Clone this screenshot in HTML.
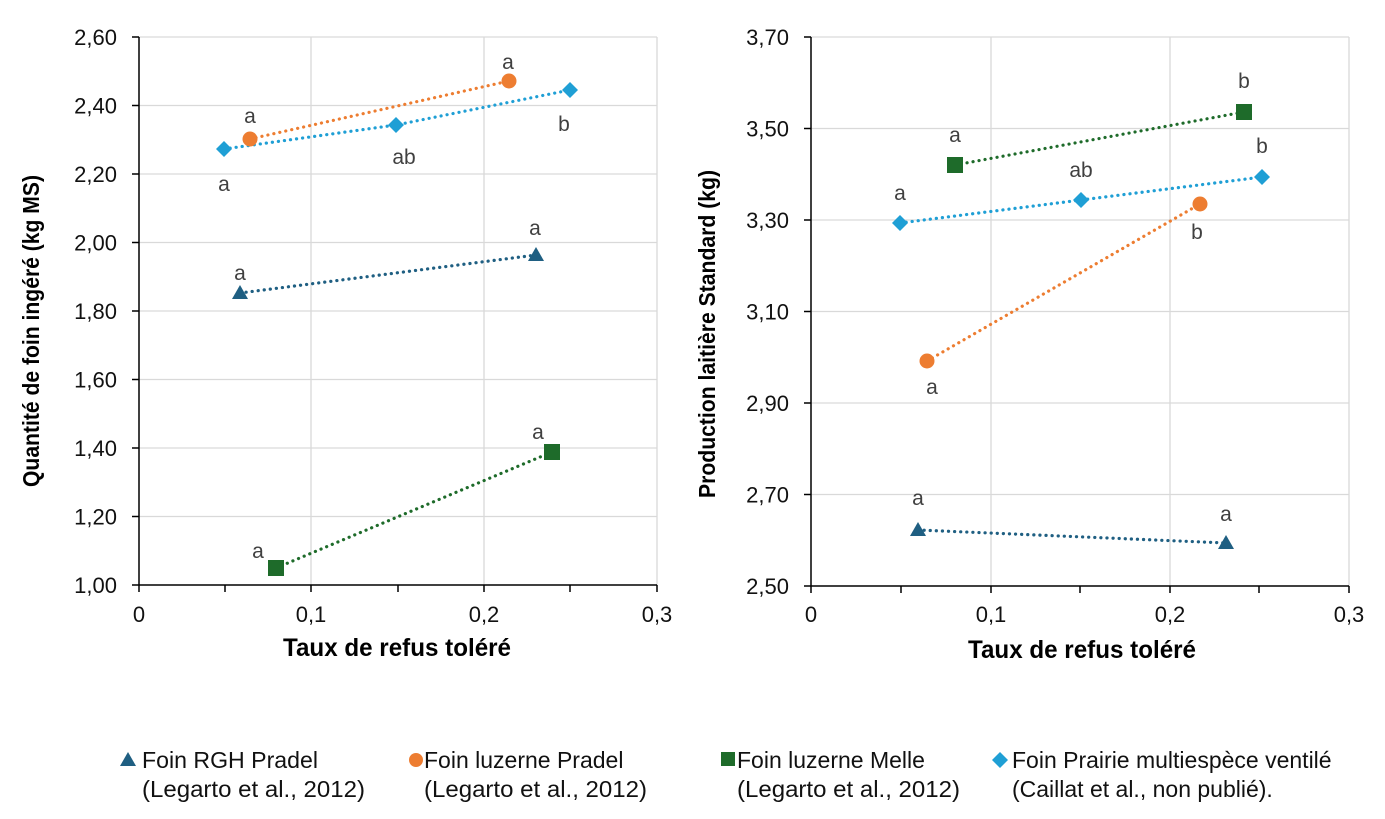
<!DOCTYPE html>
<html><head><meta charset="utf-8"><style>
html,body{margin:0;padding:0;background:#fff;}
svg{display:block;font-family:"Liberation Sans",sans-serif;}
</style></head><body>
<svg width="1385" height="819" viewBox="0 0 1385 819" xmlns="http://www.w3.org/2000/svg">
<rect width="1385" height="819" fill="#fff"/>
<!-- LEFT CHART -->
<g stroke="#d9d9d9" stroke-width="1.3">
<line x1="139" y1="37" x2="657" y2="37"/><line x1="139" y1="105.5" x2="657" y2="105.5"/>
<line x1="139" y1="174" x2="657" y2="174"/><line x1="139" y1="242.5" x2="657" y2="242.5"/>
<line x1="139" y1="311" x2="657" y2="311"/><line x1="139" y1="379.5" x2="657" y2="379.5"/>
<line x1="139" y1="448" x2="657" y2="448"/><line x1="139" y1="516.5" x2="657" y2="516.5"/>
<line x1="311" y1="37" x2="311" y2="585"/><line x1="484" y1="37" x2="484" y2="585"/><line x1="657" y1="37" x2="657" y2="585"/>
</g>
<g stroke="#000" stroke-width="1.5">
<line x1="139" y1="37" x2="139" y2="585"/><line x1="139" y1="585" x2="657" y2="585"/>
<line x1="132" y1="37" x2="139" y2="37"/><line x1="132" y1="105.5" x2="139" y2="105.5"/><line x1="132" y1="174" x2="139" y2="174"/><line x1="132" y1="242.5" x2="139" y2="242.5"/><line x1="132" y1="311" x2="139" y2="311"/><line x1="132" y1="379.5" x2="139" y2="379.5"/><line x1="132" y1="448" x2="139" y2="448"/><line x1="132" y1="516.5" x2="139" y2="516.5"/><line x1="132" y1="585" x2="139" y2="585"/>
<line x1="139" y1="585" x2="139" y2="592"/><line x1="225" y1="585" x2="225" y2="592"/><line x1="311" y1="585" x2="311" y2="592"/><line x1="398" y1="585" x2="398" y2="592"/><line x1="484" y1="585" x2="484" y2="592"/><line x1="570" y1="585" x2="570" y2="592"/><line x1="657" y1="585" x2="657" y2="592"/>
</g>
<g font-size="22" fill="#111" text-anchor="end">
<text x="117" y="45">2,60</text><text x="117" y="113.5">2,40</text><text x="117" y="182">2,20</text><text x="117" y="250.5">2,00</text><text x="117" y="319">1,80</text><text x="117" y="387.5">1,60</text><text x="117" y="456">1,40</text><text x="117" y="524.5">1,20</text><text x="117" y="593">1,00</text>
</g>
<g font-size="22" fill="#111" text-anchor="middle">
<text x="139" y="622">0</text><text x="311" y="622">0,1</text><text x="484" y="622">0,2</text><text x="657" y="622">0,3</text>
</g>
<text x="283" y="656" font-size="25" font-weight="bold" textLength="228" lengthAdjust="spacingAndGlyphs">Taux de refus toléré</text>
<text transform="translate(39,487) rotate(-90)" font-size="23" font-weight="bold" textLength="312" lengthAdjust="spacingAndGlyphs">Quantité de foin ingéré (kg MS)</text>
<g stroke-width="3.2" stroke-dasharray="0.1 6" stroke-linecap="round" fill="none">
<line x1="240" y1="293" x2="536" y2="255" stroke="#1f5f82"/>
<line x1="250" y1="139" x2="509" y2="81" stroke="#ed7d31"/>
<polyline points="224,149 396,125 570,90" stroke="#1f9fd5"/>
<line x1="276" y1="568" x2="552" y2="452" stroke="#1e6b2a"/>
</g>
<g>
<polygon points="240,285 248,299 232,299" fill="#1f5f82"/><polygon points="536,247 544,261 528,261" fill="#1f5f82"/>
<circle cx="250" cy="139" r="7.5" fill="#ed7d31"/><circle cx="509" cy="81" r="7.5" fill="#ed7d31"/>
<polygon points="224,141 232,149 224,157 216,149" fill="#1f9fd5"/><polygon points="396,117 404,125 396,133 388,125" fill="#1f9fd5"/><polygon points="570,82 578,90 570,98 562,90" fill="#1f9fd5"/>
<rect x="268" y="560" width="16" height="16" fill="#1e6b2a"/><rect x="544" y="444" width="16" height="16" fill="#1e6b2a"/>
</g>
<g font-size="21" fill="#404040" text-anchor="middle">
<text x="240" y="280">a</text><text x="535" y="235">a</text>
<text x="250" y="123">a</text><text x="508" y="69">a</text>
<text x="224" y="191">a</text><text x="404" y="164">ab</text><text x="564" y="131">b</text>
<text x="258" y="558">a</text><text x="538" y="439">a</text>
</g>
<!-- RIGHT CHART -->
<g stroke="#d9d9d9" stroke-width="1.3">
<line x1="811" y1="37" x2="1349" y2="37"/><line x1="811" y1="128.5" x2="1349" y2="128.5"/><line x1="811" y1="220" x2="1349" y2="220"/><line x1="811" y1="311.5" x2="1349" y2="311.5"/><line x1="811" y1="403" x2="1349" y2="403"/><line x1="811" y1="494.5" x2="1349" y2="494.5"/>
<line x1="991" y1="37" x2="991" y2="586"/><line x1="1170" y1="37" x2="1170" y2="586"/><line x1="1349" y1="37" x2="1349" y2="586"/>
</g>
<g stroke="#000" stroke-width="1.5">
<line x1="811" y1="37" x2="811" y2="586"/><line x1="811" y1="586" x2="1349" y2="586"/>
<line x1="804" y1="37" x2="811" y2="37"/><line x1="804" y1="128.5" x2="811" y2="128.5"/><line x1="804" y1="220" x2="811" y2="220"/><line x1="804" y1="311.5" x2="811" y2="311.5"/><line x1="804" y1="403" x2="811" y2="403"/><line x1="804" y1="494.5" x2="811" y2="494.5"/><line x1="804" y1="586" x2="811" y2="586"/>
<line x1="811" y1="586" x2="811" y2="593"/><line x1="901" y1="586" x2="901" y2="593"/><line x1="991" y1="586" x2="991" y2="593"/><line x1="1080" y1="586" x2="1080" y2="593"/><line x1="1170" y1="586" x2="1170" y2="593"/><line x1="1259" y1="586" x2="1259" y2="593"/><line x1="1349" y1="586" x2="1349" y2="593"/>
</g>
<g font-size="22" fill="#111" text-anchor="end">
<text x="789" y="45">3,70</text><text x="789" y="136.5">3,50</text><text x="789" y="228">3,30</text><text x="789" y="319.5">3,10</text><text x="789" y="411">2,90</text><text x="789" y="502.5">2,70</text><text x="789" y="594">2,50</text>
</g>
<g font-size="22" fill="#111" text-anchor="middle">
<text x="811" y="622">0</text><text x="991" y="622">0,1</text><text x="1170" y="622">0,2</text><text x="1349" y="622">0,3</text>
</g>
<text x="968" y="658" font-size="25" font-weight="bold" textLength="228" lengthAdjust="spacingAndGlyphs">Taux de refus toléré</text>
<text transform="translate(715,498) rotate(-90)" font-size="23" font-weight="bold" textLength="328" lengthAdjust="spacingAndGlyphs">Production laitière Standard (kg)</text>
<g stroke-width="3.2" stroke-dasharray="0.1 6" stroke-linecap="round" fill="none">
<line x1="955" y1="165" x2="1244" y2="112" stroke="#1e6b2a"/>
<polyline points="900,223 1081,200 1262,177" stroke="#1f9fd5"/>
<line x1="927" y1="361" x2="1200" y2="204" stroke="#ed7d31"/>
<line x1="918" y1="530" x2="1226" y2="543" stroke="#1f5f82"/>
</g>
<g>
<rect x="947" y="157" width="16" height="16" fill="#1e6b2a"/><rect x="1236" y="104" width="16" height="16" fill="#1e6b2a"/>
<polygon points="900,215 908,223 900,231 892,223" fill="#1f9fd5"/><polygon points="1081,192 1089,200 1081,208 1073,200" fill="#1f9fd5"/><polygon points="1262,169 1270,177 1262,185 1254,177" fill="#1f9fd5"/>
<circle cx="927" cy="361" r="7.5" fill="#ed7d31"/><circle cx="1200" cy="204" r="7.5" fill="#ed7d31"/>
<polygon points="918,522 926,536 910,536" fill="#1f5f82"/><polygon points="1226,535 1234,549 1218,549" fill="#1f5f82"/>
</g>
<g font-size="21" fill="#404040" text-anchor="middle">
<text x="955" y="142">a</text><text x="1244" y="88">b</text>
<text x="900" y="200">a</text><text x="1081" y="177">ab</text><text x="1262" y="153">b</text>
<text x="932" y="394">a</text><text x="1197" y="239">b</text>
<text x="918" y="505">a</text><text x="1226" y="521">a</text>
</g>
<!-- LEGEND -->
<polygon points="128,752 136,766 120,766" fill="#1f5f82"/>
<circle cx="416" cy="760" r="7" fill="#ed7d31"/>
<rect x="721" y="752" width="14" height="14" fill="#1e6b2a"/>
<polygon points="1000,752 1008,760 1000,768 992,760" fill="#1f9fd5"/>
<g font-size="23" fill="#111">
<text x="142" y="768" textLength="176" lengthAdjust="spacingAndGlyphs">Foin RGH Pradel</text><text x="142" y="797" textLength="223" lengthAdjust="spacingAndGlyphs">(Legarto et al., 2012)</text>
<text x="424" y="768">Foin luzerne Pradel</text><text x="424" y="797" textLength="223" lengthAdjust="spacingAndGlyphs">(Legarto et al., 2012)</text>
<text x="737" y="768">Foin luzerne Melle</text><text x="737" y="797" textLength="223" lengthAdjust="spacingAndGlyphs">(Legarto et al., 2012)</text>
<text x="1012" y="768">Foin Prairie multiespèce ventilé</text><text x="1012" y="797">(Caillat et al., non publié).</text>
</g>
</svg>
</body></html>
